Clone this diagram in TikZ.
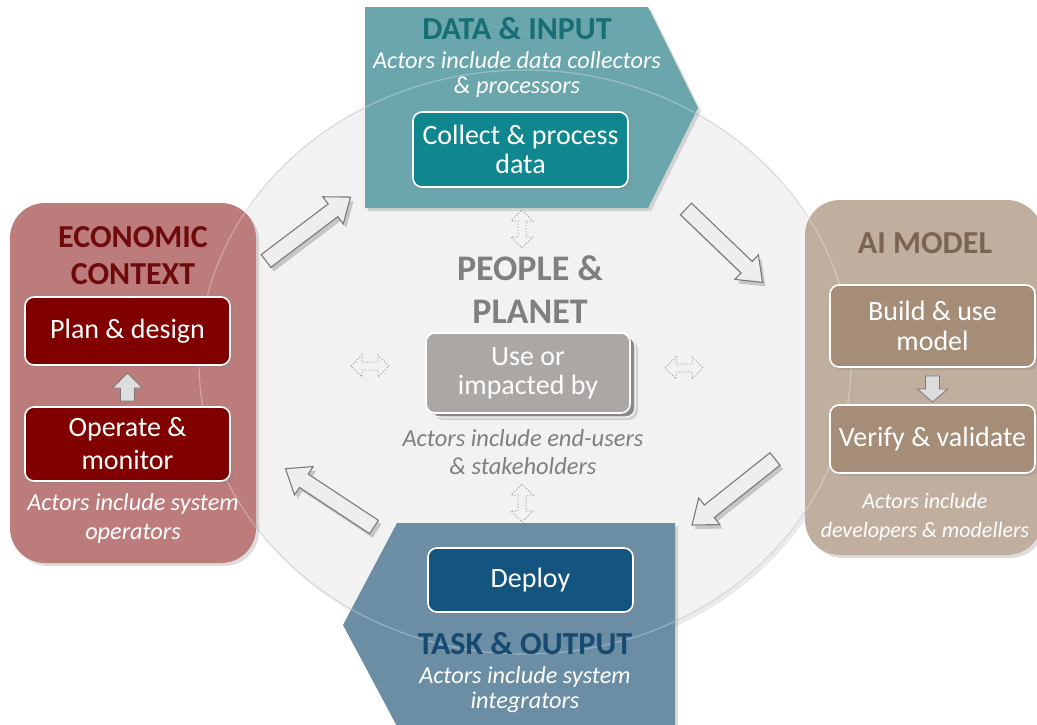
\documentclass[tikz,border=0pt]{standalone}
\usepackage{fontspec}
\setmainfont{Carlito}
\usetikzlibrary{shadows}
\definecolor{circfill}{HTML}{F2F2F2}
\definecolor{circline}{HTML}{D6D6D6}
\definecolor{tealbg}{HTML}{6BA6AC}
\definecolor{tealbox}{HTML}{10868F}
\definecolor{tealttl}{HTML}{176E75}
\definecolor{econbg}{HTML}{BD7C7C}
\definecolor{econbox}{HTML}{800000}
\definecolor{econttl}{HTML}{6E0A0A}
\definecolor{aibg}{HTML}{C0AF9E}
\definecolor{aibox}{HTML}{A58D77}
\definecolor{aittl}{HTML}{7B6450}
\definecolor{taskbg}{HTML}{6B8EA5}
\definecolor{taskbox}{HTML}{13557E}
\definecolor{taskttl}{HTML}{164A70}
\definecolor{usebox}{HTML}{ABA7A5}
\definecolor{pgray}{HTML}{7F7F7F}
\definecolor{arrfill}{HTML}{EEEEEE}
\definecolor{arrline}{HTML}{7A7A7A}
\tikzset{
  shad/.style={drop shadow={opacity=0.28, shadow xshift=3pt, shadow yshift=-3pt}},
  inbox/.style={draw=white, line width=1.6pt, rounded corners=9pt, shad,
    text=white, align=center, inner sep=0pt},
  ttl/.style={font=\fontsize{32}{37}\selectfont\bfseries, align=center},
  act/.style={font=\fontsize{24.3}{25}\selectfont\itshape, align=center, text=white},
  boxtxt/.style={font=\fontsize{28}{30}\selectfont},
  blockarr/.pic={\path[pic actions] (0,-8) -- (84,-8) -- (84,-17) -- (106,0) -- (84,17) -- (84,8) -- (0,8) -- cycle;},
  dblarr/.pic={\path[pic actions] (0,0) -- (11,-11) -- (11,-4) -- (27,-4) -- (27,-11) -- (38,0) -- (27,11) -- (27,4) -- (11,4) -- (11,11) -- cycle;},
  barrow/.style={draw=arrline, fill=arrfill, line width=1.1pt, line join=miter},
  barrowsh/.style={fill=black, fill opacity=0.18},
  darrow/.style={draw=pgray!80, dotted, line width=1pt},
  smallarr/.style={draw=arrline, fill=arrfill!85!gray, line width=0.8pt},
}
\begin{document}
\begin{tikzpicture}[x=1pt,y=-1pt]
\useasboundingbox (0,0) rectangle (1037,724);

% central circle
\fill[black, opacity=0.08] (528,366) ellipse [x radius=326pt, y radius=292pt];
\draw[circline, fill=circfill, line width=1pt] (525,362) ellipse [x radius=326pt, y radius=292pt];

% DATA & INPUT pentagon
\fill[tealbg, shad] (365,7) -- (648,7) -- (698,108) -- (648,208) -- (365,208) -- cycle;
% ECONOMIC CONTEXT
\fill[econbg, rounded corners=35pt, shad] (10,203) rectangle (256,563);
% AI MODEL
\fill[aibg, rounded corners=35pt, shad] (805,200) rectangle (1042,555);
% TASK & OUTPUT pentagon
\fill[taskbg, shad] (397,523) -- (675,523) -- (675,730) -- (399,730) -- (343,625) -- cycle;

% circle outline seen through the coloured panels
\begin{scope}
\clip (365,7) -- (648,7) -- (698,108) -- (648,208) -- (365,208) -- cycle
      (10,203) rectangle (256,563) (805,200) rectangle (1042,555)
      (397,523) -- (675,523) -- (675,730) -- (399,730) -- (343,625) -- cycle;
\draw[white, opacity=0.3, line width=1.2pt] (525,362) ellipse [x radius=326pt, y radius=292pt];
\end{scope}

% titles and actor texts
\node[ttl, text=tealttl] (dataT) at (517,29) {DATA \& INPUT};
\node[act] (dataA) at (517,74.5) {Actors include data collectors\\\& processors};
\node[ttl, text=econttl, font=\fontsize{32}{37}\selectfont\bfseries] (econT) at (133,256) {ECONOMIC\\CONTEXT};
\node[act, font=\fontsize{24.3}{29}\selectfont\itshape] (econA) at (133,518.5) {Actors include system\\operators};
\node[ttl, text=aittl] (aiT) at (925,243) {AI MODEL};
\node[act, font=\fontsize{22}{29}\selectfont\itshape] (aiA) at (925,517.5) {Actors include\\developers \& modellers};
\node[ttl, text=pgray, font=\fontsize{36}{43}\selectfont\bfseries] (ppT) at (530,289.5) {PEOPLE \&\\PLANET};
\node[act, text=pgray, font=\fontsize{24.5}{28}\selectfont\itshape] (ppA) at (523,452) {Actors include end-users\\\& stakeholders};
\node[ttl, text=taskttl] (taskT) at (525,644) {TASK \& OUTPUT};
\node[act] (taskA) at (525,689.5) {Actors include system\\integrators};

% inner boxes
\node[inbox, fill=tealbox, minimum width=215pt, minimum height=75pt, font=\fontsize{28}{29}\selectfont] (collect) at (520.5,149.5) {Collect \& process\\data};
\node[inbox, fill=econbox, minimum width=205pt, minimum height=68pt, boxtxt] (plan) at (127.5,331) {Plan \& design};
\node[inbox, fill=econbox, minimum width=205pt, minimum height=74pt, font=\fontsize{28}{33}\selectfont] (operate) at (127.5,444) {Operate \&\\monitor};
\node[inbox, fill=aibox, minimum width=205pt, minimum height=82pt, font=\fontsize{28}{30}\selectfont] (build) at (932.5,326) {Build \& use\\model};
\node[inbox, fill=aibox, minimum width=205pt, minimum height=68pt, boxtxt] (verify) at (932.5,439) {Verify \& validate};
\node[inbox, fill=taskbox, minimum width=205pt, minimum height=64pt, boxtxt] (deploy) at (530.5,580) {Deploy};
\node[draw=white, line width=1.2pt, fill=pgray!90, rounded corners=9pt, shad,
      minimum width=204pt, minimum height=80pt] (useback) at (533,377) {};
\node[inbox, fill=usebox, minimum width=204pt, minimum height=80pt, drop shadow={opacity=0}, font=\fontsize{28}{29}\selectfont] (use) at (528,373) {Use or\\impacted by};

% small arrows inside the panels
\draw[smallarr] (plan.south |- 0,401) ++(-7,0) -- ++(0,-13) -- ++(-8,0) -- ++(15,-15) -- ++(15,15) -- ++(-8,0) -- ++(0,13) -- cycle;
\draw[smallarr] (verify.north |- 0,376) ++(-7,0) -- ++(0,13) -- ++(-8,0) -- ++(15,13) -- ++(15,-13) -- ++(-8,0) -- ++(0,-13) -- cycle;

% big block arrows (shadow then arrow)
\coordinate (a1) at (266,261);
\coordinate (a2) at (686,209);
\coordinate (a3) at (374,527);
\coordinate (a4) at (775,459);
\pic[rotate=37.1, barrowsh] at ([shift={(3,4)}]a1) {blockarr};
\pic[rotate=-43.8, barrowsh] at ([shift={(3,4)}]a2) {blockarr};
\pic[rotate=146.6, barrowsh] at ([shift={(3,4)}]a3) {blockarr};
\pic[rotate=218.5, barrowsh] at ([shift={(3,4)}]a4) {blockarr};
\pic[rotate=37.1, barrow] at (a1) {blockarr};
\pic[rotate=-43.8, barrow] at (a2) {blockarr};
\pic[rotate=146.6, barrow] at (a3) {blockarr};
\pic[rotate=218.5, barrow] at (a4) {blockarr};

% dotted double arrows
\pic[rotate=-90, darrow] at (522,210) {dblarr};
\pic[rotate=-90, darrow] at (522,484) {dblarr};
\pic[darrow] at (351,366) {dblarr};
\pic[darrow] at (665,368) {dblarr};
\end{tikzpicture}
\end{document}
